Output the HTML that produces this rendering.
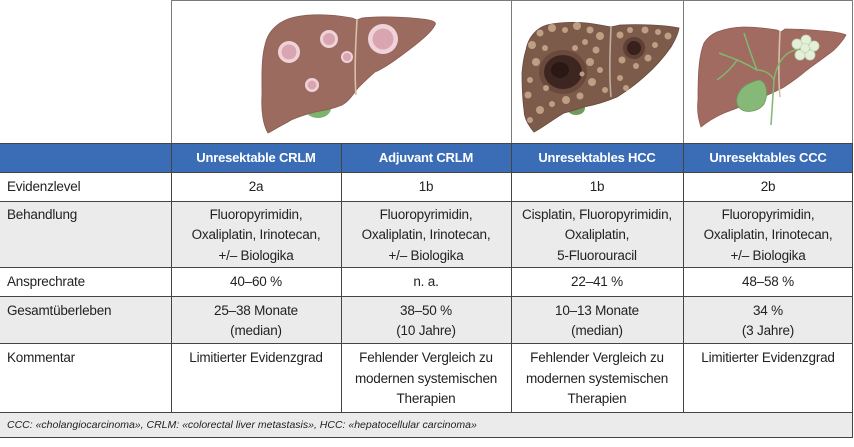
<!DOCTYPE html>
<html><head><meta charset="utf-8"><style>
html,body{margin:0;padding:0;background:#fff;}
svg{display:block;}
text{font-family:"Liberation Sans",sans-serif;}
.t{font-size:13.5px;fill:#222;letter-spacing:-0.2px;}
.c{text-anchor:middle;}
.h{font-size:13px;font-weight:bold;fill:#fff;text-anchor:middle;letter-spacing:-0.2px;}
.f{font-size:10.5px;font-style:italic;fill:#222;}
</style></head><body>
<svg width="854" height="447" viewBox="0 0 854 447" xmlns="http://www.w3.org/2000/svg">
<rect width="854" height="447" fill="#fff"/>
<!-- row backgrounds -->
<rect x="0" y="143" width="853" height="29" fill="#3b6cb6"/>
<rect x="0" y="201" width="853" height="66" fill="#ebebeb"/>
<rect x="0" y="296" width="853" height="47" fill="#ebebeb"/>
<rect x="0" y="412" width="853" height="26" fill="#ebebeb"/>

<!-- Liver 1 (CRLM) -->
<ellipse cx="318" cy="108" rx="13" ry="10" fill="#7cb46f"/>
<path d="M265,45 C268,30 280,20 295,17 C310,14 330,14 352,18 L357,20 L362,18 C380,16 405,17 422,19 C432,20 437,22 435,25 C432,32 420,42 402,55 C390,64 380,70 375,72 C368,78 362,84 358,88 C352,96 348,102 342,105 C330,110 320,111 315,112 C300,116 290,120 288,122 C280,126 272,131 268,133 C263,125 261,110 262,95 C262,80 261,60 265,45 Z" fill="#9b6b5f" stroke="#8a5b50" stroke-width="0.8"/>
<path d="M357,19 C356,40 354,70 356,95" stroke="#d8c0a6" stroke-width="1.6" fill="none"/>
<g>
<circle cx="289" cy="52" r="11" fill="#f0d3d9"/><circle cx="289" cy="52" r="7.5" fill="#d9a5b1"/>
<circle cx="329" cy="39" r="9" fill="#f0d3d9"/><circle cx="329" cy="39" r="6" fill="#d9a5b1"/>
<circle cx="347" cy="57" r="6" fill="#f0d3d9"/><circle cx="347" cy="57" r="4" fill="#d9a5b1"/>
<circle cx="312" cy="85" r="7" fill="#f0d3d9"/><circle cx="312" cy="85" r="4.5" fill="#d9a5b1"/>
<circle cx="383" cy="39" r="15" fill="#f0d3d9"/><circle cx="383" cy="39" r="10.5" fill="#d9a5b1"/>
</g>

<!-- Liver 2 (HCC) -->
<ellipse cx="576" cy="108" rx="9" ry="7" fill="#6f9a5f"/>
<path d="M526,50 C528,38 536,28 547,25 C560,22 580,21 600,25 L611,27 L620,25 C640,24 665,25 679,28 C678,35 674,42 671,47 C662,60 652,70 644,77 C635,85 625,92 617,97 C605,102 595,105 584,107 C575,110 568,112 564,113 C555,118 542,128 534,132 C528,125 524,118 524,110 C522,95 522,80 522,73 C523,62 524,56 526,50 Z" fill="#7d5b4a" stroke="#6a4a3c" stroke-width="0.8"/>
<path d="M611,27 C610,50 609,75 611,97" stroke="#bfae9e" stroke-width="1.6" fill="none"/>
<ellipse cx="563" cy="72" rx="24" ry="22" fill="#6b4a3e"/>
<ellipse cx="563" cy="72" rx="19" ry="17" fill="#3d2620"/>
<ellipse cx="560" cy="70" rx="9" ry="8" fill="#2a1814"/>
<circle cx="634" cy="48" r="11" fill="#5e4034"/>
<circle cx="634" cy="48" r="7" fill="#36211c"/>
<g fill="#c6a68b" opacity="0.9">
<circle cx="532" cy="45" r="4"/><circle cx="540" cy="33" r="3.5"/><circle cx="552" cy="28" r="4"/><circle cx="565" cy="30" r="3"/><circle cx="577" cy="26" r="4"/><circle cx="590" cy="30" r="3.5"/><circle cx="600" cy="36" r="4"/><circle cx="585" cy="42" r="3"/><circle cx="596" cy="50" r="3.5"/><circle cx="590" cy="62" r="4"/><circle cx="600" cy="70" r="3"/><circle cx="592" cy="82" r="4"/><circle cx="580" cy="96" r="3.5"/><circle cx="566" cy="100" r="4"/><circle cx="552" cy="104" r="3"/><circle cx="540" cy="110" r="4"/><circle cx="530" cy="120" r="3"/><circle cx="528" cy="95" r="3.5"/><circle cx="530" cy="80" r="3"/><circle cx="536" cy="62" r="4"/><circle cx="545" cy="48" r="3"/><circle cx="575" cy="48" r="3"/><circle cx="620" cy="35" r="3.5"/><circle cx="630" cy="30" r="3"/><circle cx="645" cy="30" r="3.5"/><circle cx="658" cy="32" r="3"/><circle cx="668" cy="36" r="3.5"/><circle cx="655" cy="45" r="3"/><circle cx="648" cy="58" r="3.5"/><circle cx="636" cy="66" r="3"/><circle cx="622" cy="60" r="3.5"/><circle cx="620" cy="78" r="3"/><circle cx="626" cy="88" r="3"/><circle cx="605" cy="90" r="3"/><circle cx="546" cy="88" r="3"/><circle cx="582" cy="74" r="2.5"/>
</g>

<!-- Liver 3 (CCC) -->
<path d="M699,67 C700,55 702,48 704,43 C708,37 712,34 717,32 C728,28 736,27 744,27 C758,27 770,29 777,30 L781,32 L785,29 C800,29 815,30 834,32 C840,33 845,34 846,35 C842,42 838,46 834,50 C825,57 815,64 807,70 C800,76 792,82 784,87 C775,92 765,96 757,100 C745,105 735,109 724,113 C715,117 707,122 701,127 C698,118 697,108 698,100 C698,88 698,78 699,67 Z" fill="#a16b61" stroke="#8e5b52" stroke-width="0.8"/>
<path d="M780,31 C779,55 778,78 780,97" stroke="#d6c0a8" stroke-width="1.6" fill="none"/>
<g stroke="#7fb870" stroke-width="1.5" fill="none">
<path d="M774,80 C773,95 772,110 771,125"/>
<path d="M774,80 C770,72 762,70 757,70 C750,66 742,62 737,60 C730,57 724,55 719,53"/>
<path d="M757,70 C752,58 748,45 744,33"/>
<path d="M737,60 C732,68 724,75 717,80"/>
<path d="M774,80 C776,68 780,58 790,52 C795,50 798,49 800,48"/>
</g>
<path d="M760,80 C768,84 768,96 764,104 C758,113 742,114 738,106 C734,98 740,88 748,84 C753,82 756,80 760,80 Z" fill="#86b877" stroke="#6a9d5d" stroke-width="0.8"/>
<g fill="#e3efd9" stroke="#c2d9b4" stroke-width="0.8">
<circle cx="797" cy="44" r="5"/><circle cx="806" cy="40" r="5"/><circle cx="814" cy="46" r="5"/><circle cx="810" cy="55" r="5"/><circle cx="800" cy="55" r="5"/><circle cx="805" cy="48" r="4.5"/>
</g>

<!-- image area borders -->
<g stroke="#7a7a7a" stroke-width="1">
<line x1="171" y1="0.5" x2="853" y2="0.5"/>
<line x1="171.5" y1="0" x2="171.5" y2="143"/>
<line x1="511.5" y1="0" x2="511.5" y2="143"/>
<line x1="683.5" y1="0" x2="683.5" y2="143"/>
<line x1="852.5" y1="0" x2="852.5" y2="143"/>
</g>

<!-- table lines -->
<g stroke="#444" stroke-width="1">
<line x1="0" y1="143.5" x2="853" y2="143.5"/>
<line x1="0" y1="172.5" x2="853" y2="172.5"/>
<line x1="0" y1="201.5" x2="853" y2="201.5"/>
<line x1="0" y1="267.5" x2="853" y2="267.5"/>
<line x1="0" y1="296.5" x2="853" y2="296.5"/>
<line x1="0" y1="343.5" x2="853" y2="343.5"/>
<line x1="0" y1="412.5" x2="853" y2="412.5"/>
<line x1="0" y1="437.5" x2="853" y2="437.5"/>
<line x1="171.5" y1="143" x2="171.5" y2="412"/>
<line x1="341.5" y1="143" x2="341.5" y2="412"/>
<line x1="511.5" y1="143" x2="511.5" y2="412"/>
<line x1="683.5" y1="143" x2="683.5" y2="412"/>
<line x1="852.5" y1="143" x2="852.5" y2="438"/>
</g>

<!-- header text -->
<text class="h" x="256" y="162">Unresektable CRLM</text>
<text class="h" x="426" y="162">Adjuvant CRLM</text>
<text class="h" x="597" y="162">Unresektables HCC</text>
<text class="h" x="768" y="162">Unresektables CCC</text>

<!-- labels -->
<text class="t" x="7" y="191">Evidenzlevel</text>
<text class="t" x="7" y="219">Behandlung</text>
<text class="t" x="7" y="286">Ansprechrate</text>
<text class="t" x="7" y="315">Gesamtüberleben</text>
<text class="t" x="7" y="362">Kommentar</text>

<!-- col 1 -->
<text class="t c" x="256" y="191">2a</text>
<text class="t c" x="256" y="219">Fluoropyrimidin,</text>
<text class="t c" x="256" y="239">Oxaliplatin, Irinotecan,</text>
<text class="t c" x="256" y="260">+/– Biologika</text>
<text class="t c" x="256" y="286">40–60 %</text>
<text class="t c" x="256" y="315">25–38 Monate</text>
<text class="t c" x="256" y="335">(median)</text>
<text class="t c" x="256" y="362">Limitierter Evidenzgrad</text>

<!-- col 2 -->
<text class="t c" x="426" y="191">1b</text>
<text class="t c" x="426" y="219">Fluoropyrimidin,</text>
<text class="t c" x="426" y="239">Oxaliplatin, Irinotecan,</text>
<text class="t c" x="426" y="260">+/– Biologika</text>
<text class="t c" x="426" y="286">n. a.</text>
<text class="t c" x="426" y="315">38–50 %</text>
<text class="t c" x="426" y="335">(10 Jahre)</text>
<text class="t c" x="426" y="362">Fehlender Vergleich zu</text>
<text class="t c" x="426" y="383">modernen systemischen</text>
<text class="t c" x="426" y="403">Therapien</text>

<!-- col 3 -->
<text class="t c" x="597" y="191">1b</text>
<text class="t c" x="597" y="219">Cisplatin, Fluoropyrimidin,</text>
<text class="t c" x="597" y="239">Oxaliplatin,</text>
<text class="t c" x="597" y="260">5-Fluorouracil</text>
<text class="t c" x="597" y="286">22–41 %</text>
<text class="t c" x="597" y="315">10–13 Monate</text>
<text class="t c" x="597" y="335">(median)</text>
<text class="t c" x="597" y="362">Fehlender Vergleich zu</text>
<text class="t c" x="597" y="383">modernen systemischen</text>
<text class="t c" x="597" y="403">Therapien</text>

<!-- col 4 -->
<text class="t c" x="768" y="191">2b</text>
<text class="t c" x="768" y="219">Fluoropyrimidin,</text>
<text class="t c" x="768" y="239">Oxaliplatin, Irinotecan,</text>
<text class="t c" x="768" y="260">+/– Biologika</text>
<text class="t c" x="768" y="286">48–58 %</text>
<text class="t c" x="768" y="315">34 %</text>
<text class="t c" x="768" y="335">(3 Jahre)</text>
<text class="t c" x="768" y="362">Limitierter Evidenzgrad</text>

<!-- footnote -->
<text class="f" x="7" y="428">CCC: «cholangiocarcinoma», CRLM: «colorectal liver metastasis», HCC: «hepatocellular carcinoma»</text>
</svg>
</body></html>
